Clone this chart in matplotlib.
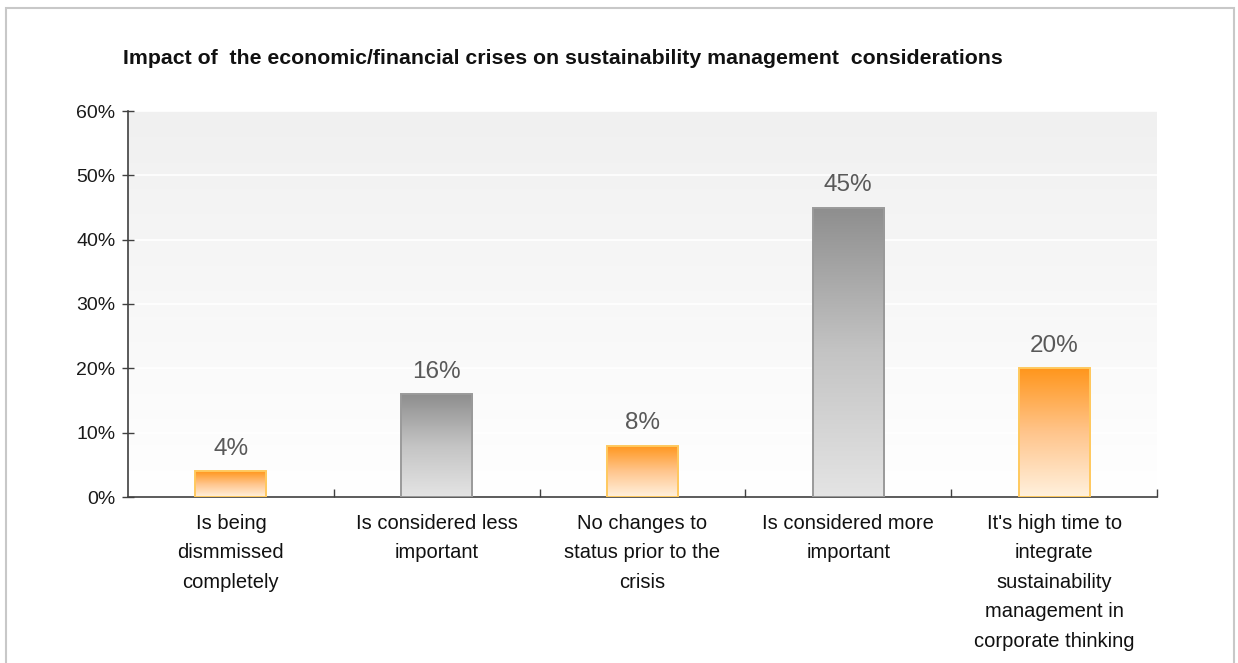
import numpy as np
import matplotlib
matplotlib.use("Agg")
import matplotlib.pyplot as plt
from matplotlib.colors import LinearSegmentedColormap
from matplotlib.patches import Rectangle

plt.rcParams['font.family'] = ['Liberation Sans', 'DejaVu Sans']

title = "Impact of  the economic/financial crises on sustainability management  considerations"
categories = [
    "Is being\ndismmissed\ncompletely",
    "Is considered less\nimportant",
    "No changes to\nstatus prior to the\ncrisis",
    "Is considered more\nimportant",
    "It's high time to\nintegrate\nsustainability\nmanagement in\ncorporate thinking",
]
values = [4, 16, 8, 45, 20]
bar_kind = ["orange", "gray", "orange", "gray", "orange"]
yticks = [0, 10, 20, 30, 40, 50, 60]

cmaps = {
    "orange": LinearSegmentedColormap.from_list("o", ["#fff1de", "#ffc58c", "#ff961c"]),
    "gray": LinearSegmentedColormap.from_list("g", ["#e4e4e4", "#c4c4c4", "#8e8e8e"]),
}
edges = {"orange": "#ffc95e", "gray": "#9a9a9a"}

fig = plt.figure(figsize=(12.38, 6.63), dpi=100)
fig.patch.set_facecolor("white")

# outer frame
fig.patches.append(Rectangle((6 / 1238, -0.05), (1234 - 6) / 1238, 1 - 8 / 663 + 0.05,
                             transform=fig.transFigure, fill=False,
                             edgecolor="#c8c8c8", linewidth=1.5))

ax = fig.add_axes([128 / 1238, 1 - 497 / 663, (1157 - 128) / 1238, (497 - 111) / 663])
n = len(values)

# plot area background: light gray at top fading to white
bg = np.linspace(0, 1, 256).reshape(-1, 1)
bg_cmap = LinearSegmentedColormap.from_list("bg", ["#ffffff", "#f0f0f0"])
ax.imshow(bg, cmap=bg_cmap, aspect="auto", extent=(-0.5, n - 0.5, 0, 60),
          origin="lower", zorder=0)
ax.set_facecolor("white")

for y in yticks[1:]:
    ax.axhline(y, color="white", linewidth=1.2, zorder=1)

x = np.arange(n)
bars = ax.bar(x, values, width=0.345, facecolor="none", zorder=3)
grad = np.linspace(0, 1, 256).reshape(-1, 1)
for rect, kind, v in zip(bars, bar_kind, values):
    rect.set_edgecolor(edges[kind])
    rect.set_linewidth(1.4)
    x0 = rect.get_x()
    im = ax.imshow(grad, cmap=cmaps[kind], aspect="auto",
                   extent=(x0, x0 + rect.get_width(), 0, v),
                   origin="lower", zorder=2)
    im.set_clip_path(rect)
    ax.annotate(f"{v}%", (rect.get_x() + rect.get_width() / 2, v),
                xytext=(0, 8), textcoords="offset points",
                ha="center", va="bottom", fontsize=17.5, color="#595959")

ax.set_xlim(-0.5, n - 0.5)
ax.set_ylim(0, 60)

ax.set_yticks(yticks)
ax.set_yticklabels([f"{t}%" for t in yticks], fontsize=14, color="#1a1a1a")
ax.tick_params(axis="y", direction="inout", length=8, width=1, color="#404040", pad=5)

ax.set_xticks(x)
ax.set_xticklabels(categories, fontsize=14.5, color="#111111", linespacing=1.7, va="top")
ax.tick_params(axis="x", which="major", length=0, pad=12)
ax.set_xticks(np.arange(n) + 0.5, minor=True)
ax.tick_params(axis="x", which="minor", direction="in", length=6, width=1, color="#404040")

for side in ["top", "right"]:
    ax.spines[side].set_visible(False)
for side in ["left", "bottom"]:
    ax.spines[side].set_color("#404040")
    ax.spines[side].set_linewidth(1.2)

fig.text(123 / 1238, 1 - 58 / 663, title, fontsize=15.3, fontweight="bold",
         ha="left", va="center", color="#111111")

fig.savefig("out.png", dpi=100)
